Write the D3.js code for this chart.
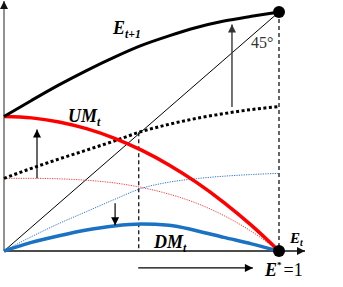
<!DOCTYPE html>
<html>
<head>
<meta charset="UTF-8">
<script src="https://d3js.org/d3.v7.min.js"></script>
<style>
  body { margin: 0; background: #fff; }
  text { font-family: "Liberation Serif", "DejaVu Serif", serif; }
</style>
</head>
<body>
<svg id="chart" width="343" height="287"></svg>
<script>
  // abscisse commune (E_t)
  const xs      = [0, 0.1, 0.2, 0.3, 0.4, 0.5, 0.6, 0.7, 0.8, 0.9, 1];
  // courbes
  const eNext   = [0.5625, 0.63, 0.695, 0.755, 0.81, 0.86, 0.90, 0.935, 0.962, 0.982, 1.0];
  const umT     = [0.5625, 0.557, 0.54, 0.512, 0.4725, 0.422, 0.36, 0.287, 0.2025, 0.107, 0];
  const umDot   = [0.304, 0.346, 0.385, 0.422, 0.46, 0.50, 0.53, 0.555, 0.575, 0.592, 0.604];
  const redThin = [0.304, 0.304, 0.302, 0.296, 0.285, 0.266, 0.238, 0.20, 0.148, 0.082, 0];
  const blueThin= [0, 0.06, 0.115, 0.165, 0.215, 0.262, 0.288, 0.303, 0.313, 0.32, 0.325];
  const dmT     = [0, 0.036, 0.064, 0.088, 0.105, 0.113, 0.108, 0.085, 0.057, 0.03, 0];

  const crossX = 0.49, crossY = 0.497;   // intersection pointillé / 45°
  // flèches : [x1, y1, x2, y2] en unités des données
  const arrows = [
    [0.829, 0.603, 0.829, 0.948],
    [0.12, 0.304, 0.12, 0.508],
    [0.404, 0.20, 0.404, 0.108],
    [0.488, -0.071, 0.905, -0.071]
  ];

  const svg = d3.select("#chart");
  const x = d3.scaleLinear().domain([0, 1]).range([4, 279]);
  const y = d3.scaleLinear().domain([0, 1]).range([251, 12]);

  const defs = svg.append("defs");
  function marker(id, color, w, h) {
    defs.append("marker")
        .attr("id", id)
        .attr("viewBox", "0 0 10 10")
        .attr("refX", 10).attr("refY", 5)
        .attr("markerUnits", "userSpaceOnUse")
        .attr("markerWidth", w).attr("markerHeight", h)
        .attr("orient", "auto")
      .append("path")
        .attr("d", "M0,0 L10,5 L0,10 Z")
        .attr("fill", color);
  }
  marker("headBlack", "#000", 10, 8);
  marker("headGray", "#333", 10, 8);
  marker("headAxis", "#111", 10, 8);

  // axes
  svg.append("line")
     .attr("x1", x(0)).attr("y1", y(0)).attr("x2", x(0)).attr("y2", 1)
     .attr("stroke", "#6e6e6e").attr("stroke-width", 1.5)
     .attr("marker-end", "url(#headAxis)");
  svg.append("line")
     .attr("x1", x(0)).attr("y1", y(0)).attr("x2", 305).attr("y2", y(0))
     .attr("stroke", "#111").attr("stroke-width", 1.5)
     .attr("marker-end", "url(#headAxis)");

  // ligne à 45°
  svg.append("line")
     .attr("x1", x(0)).attr("y1", y(0)).attr("x2", x(1)).attr("y2", y(1))
     .attr("stroke", "#000").attr("stroke-width", 1);

  // pointillés verticaux
  svg.append("line")
     .attr("x1", x(crossX)).attr("y1", y(crossY)).attr("x2", x(crossX)).attr("y2", y(0))
     .attr("stroke", "#000").attr("stroke-width", 1.2).attr("stroke-dasharray", "4,3");
  svg.append("line")
     .attr("x1", x(1)).attr("y1", y(1)).attr("x2", x(1)).attr("y2", y(0))
     .attr("stroke", "#000").attr("stroke-width", 1.2).attr("stroke-dasharray", "4,3");

  const line = d3.line()
    .x((d, i) => x(xs[i]))
    .y(d => y(d))
    .curve(d3.curveMonotoneX);

  function curve(values, color, width, dash) {
    const p = svg.append("path")
      .datum(values)
      .attr("d", line)
      .attr("fill", "none")
      .attr("stroke", color)
      .attr("stroke-width", width);
    if (dash) p.attr("stroke-dasharray", dash);
  }

  curve(redThin, "#ff3b3b", 1, "1.2,1.2");
  curve(blueThin, "#2f72d6", 1, "1.2,1.2");
  curve(umDot, "#000", 3, "3,2.5");
  curve(dmT, "#1b71c2", 3.5);
  curve(umT, "#ff0000", 3.5);
  curve(eNext, "#000", 3);

  // flèches
  arrows.forEach((a, i) => {
    svg.append("line")
       .attr("x1", x(a[0])).attr("y1", y(a[1]))
       .attr("x2", x(a[2])).attr("y2", y(a[3]))
       .attr("stroke", i === 0 ? "#444" : "#000")
       .attr("stroke-width", i === 0 ? 1.5 : 1.2)
       .attr("marker-end", i === 0 ? "url(#headGray)" : "url(#headBlack)");
  });

  // points
  [[1, 1], [1, 0]].forEach(p => {
    svg.append("circle")
       .attr("cx", x(p[0])).attr("cy", y(p[1])).attr("r", 6)
       .attr("fill", "#000");
  });

  // étiquettes
  function label(px, py, main, sub, size, subDy) {
    const t = svg.append("text")
      .attr("x", px).attr("y", py)
      .attr("font-size", size)
      .attr("font-weight", "bold")
      .attr("font-style", "italic");
    t.append("tspan").text(main);
    if (sub) {
      t.append("tspan").attr("font-size", size * 0.65).attr("dy", subDy).text(sub);
    }
  }
  label(113, 34, "E", "t+1", 18, 4);
  label(68, 122, "UM", "t", 18, 4);
  label(154, 248, "DM", "t", 18, 4);
  label(290, 243, "E", "t", 15, 3);

  svg.append("text")
     .attr("x", 251).attr("y", 48)
     .attr("font-size", 16).attr("fill", "#333")
     .text("45°");

  const es = svg.append("text")
     .attr("x", 265).attr("y", 276)
     .attr("font-size", 18);
  es.append("tspan").attr("font-weight", "bold").attr("font-style", "italic").text("E");
  es.append("tspan").attr("font-size", 9).attr("dy", -8).attr("font-weight", "bold").text("*");
  es.append("tspan").attr("dy", 8).attr("dx", 2).attr("font-size", 18).text("=1");
</script>
</body>
</html>
